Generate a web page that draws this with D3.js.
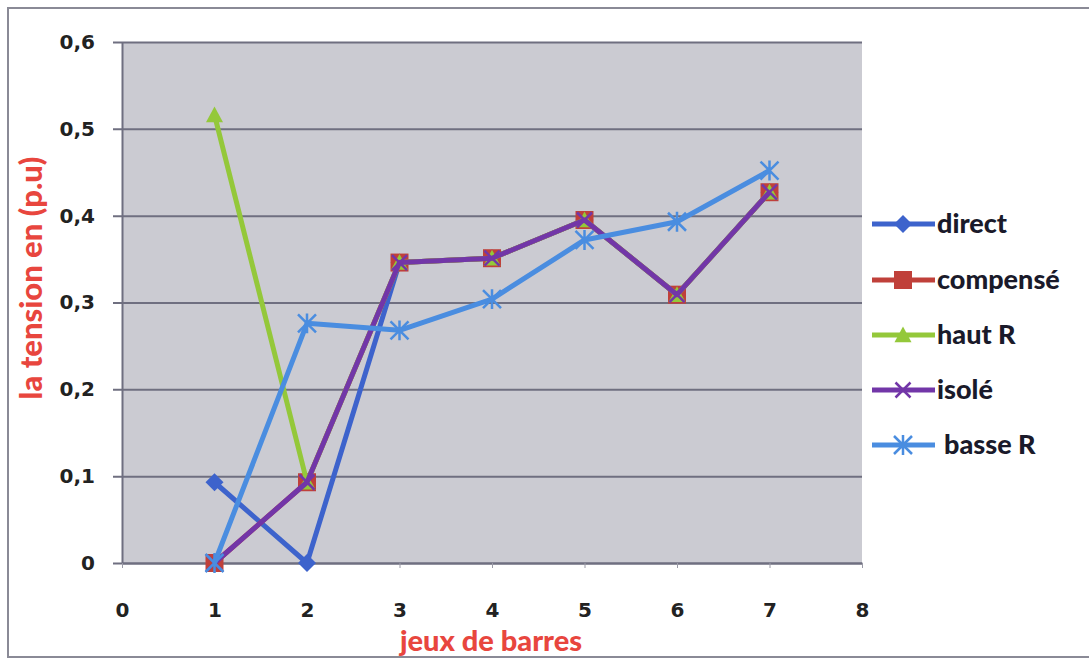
<!DOCTYPE html>
<html><head><meta charset="utf-8">
<script src="https://cdn.jsdelivr.net/npm/d3@7"></script>
<style>html,body{margin:0;padding:0;background:#fff;}</style>
</head><body>
<svg id="c" width="1089" height="659"></svg>
<script>
const xValues = [1, 2, 3, 4, 5, 6, 7];
const direct   = [0.093, 0.0,   0.346, 0.351, 0.395, 0.309, 0.427];
const compense = [0.0,   0.093, 0.346, 0.351, 0.395, 0.309, 0.427];
const hautR    = [0.516, 0.093, 0.346, 0.351, 0.395, 0.309, 0.427];
const isole    = [0.0,   0.093, 0.346, 0.351, 0.395, 0.309, 0.427];
const basseR   = [0.0,   0.276, 0.268, 0.304, 0.372, 0.393, 0.452];
const seriesNames = ["direct", "compensé", "haut R", "isolé", "basse R"];
const xTicks = [0, 1, 2, 3, 4, 5, 6, 7, 8];
const yTicks = [0, 0.1, 0.2, 0.3, 0.4, 0.5, 0.6];
const xTitle = "jeux de barres";
const yTitle = "la tension en (p.u)";

const series = [
  {name: seriesNames[0], values: direct,   color: "#3d63cc", marker: "diamond"},
  {name: seriesNames[1], values: compense, color: "#c0403a", marker: "square"},
  {name: seriesNames[2], values: hautR,    color: "#94c83a", marker: "triangle"},
  {name: seriesNames[3], values: isole,    color: "#7236a8", marker: "x"},
  {name: seriesNames[4], values: basseR,   color: "#4a8de0", marker: "star"}
];

const svg = d3.select("#c");
const L = 122, R = 862, T = 42, B = 563;
const x = d3.scaleLinear().domain([0, 8]).range([L, R]);
const y = d3.scaleLinear().domain([0, 0.6]).range([B, T]);

// outer frame
svg.append("path").attr("d", `M1089,8 H8 V657 H1089`).attr("fill", "none")
  .attr("stroke", "#8a8a96").attr("stroke-width", 2);

// plot background
svg.append("rect").attr("x", L).attr("y", T).attr("width", R - L).attr("height", B - T)
  .attr("fill", "#cbcbd2");

// gridlines + y axis
const yAxis = d3.axisLeft(y).tickValues(yTicks).tickSize(-(R - L)).tickSizeOuter(0)
  .tickPadding(27).tickFormat(d => d === 0 ? "0" : d3.format(".1f")(d).replace(".", ","));
const gy = svg.append("g").attr("transform", `translate(${L},0)`).call(yAxis);
gy.select(".domain").attr("stroke", "#6f6f80").attr("stroke-width", 2);
gy.selectAll(".tick line").attr("stroke", "#6f6f80").attr("stroke-width", 2).attr("x1", -9);
gy.selectAll(".tick text").attr("fill", "#222").style("font-family", "DejaVu Sans")
  .style("font-weight", "bold").style("font-size", "20px");

// x axis
const xAxis = d3.axisBottom(x).tickValues(xTicks).tickSize(5).tickSizeOuter(0).tickPadding(35)
  .tickFormat(d3.format("d"));
const gx = svg.append("g").attr("transform", `translate(0,${B})`).call(xAxis);
gx.select(".domain").attr("stroke", "#6f6f80").attr("stroke-width", 2);
gx.selectAll(".tick line").attr("stroke", "#9a9aa6").attr("stroke-width", 1);
gx.selectAll(".tick text").attr("fill", "#222").style("font-family", "DejaVu Sans")
  .style("font-weight", "bold").style("font-size", "20px");

// titles
svg.append("text").attr("x", 491).attr("y", 651).attr("text-anchor", "middle")
  .attr("fill", "#e8463e").style("font-family", "Lato").style("font-weight", "900")
  .style("font-size", "29px").text(xTitle);
svg.append("text").attr("transform", "translate(42,278) rotate(-90)").attr("text-anchor", "middle")
  .attr("fill", "#e8463e").style("font-family", "Lato").style("font-weight", "900")
  .style("font-size", "31px").text(yTitle);

function markerPath(type, s) {
  const h = s / 2;
  switch (type) {
    case "diamond": return `M0,${-h}L${h},0L0,${h}L${-h},0Z`;
    case "square": return `M${-h},${-h}H${h}V${h}H${-h}Z`;
    case "triangle": return `M0,${-h}L${h},${h * 0.85}H${-h}Z`;
    case "x": return `M${-h},${-h}L${h},${h}M${h},${-h}L${-h},${h}`;
    case "star": return `M${-h},${-h}L${h},${h}M${h},${-h}L${-h},${h}M0,${-h * 1.1}V${h * 1.1}`;
  }
}
function drawMarker(g, type, color, s) {
  const p = g.append("path").attr("d", markerPath(type, s));
  if (type === "x" || type === "star") p.attr("fill", "none").attr("stroke", color).attr("stroke-width", 2.5);
  else p.attr("fill", color).attr("stroke", "none");
}

const line = d3.line().x((d, i) => x(xValues[i])).y(d => y(d));
const sizes = {diamond: 18, square: 18, triangle: 17, x: 15, star: 18};

series.forEach(s => {
  const g = svg.append("g");
  g.append("path").datum(s.values).attr("d", line).attr("fill", "none")
    .attr("stroke", s.color).attr("stroke-width", 5).attr("stroke-linejoin", "round");
  s.values.forEach((v, i) => {
    const m = g.append("g").attr("transform", `translate(${x(xValues[i])},${y(v)})`);
    drawMarker(m, s.marker, s.color, sizes[s.marker]);
  });
});

// legend
const legY = [224, 280, 335, 390, 445];
series.forEach((s, i) => {
  const g = svg.append("g").attr("transform", `translate(0,${legY[i]})`);
  g.append("line").attr("x1", 872).attr("x2", 935).attr("y1", 0).attr("y2", 0)
    .attr("stroke", s.color).attr("stroke-width", 5);
  const m = g.append("g").attr("transform", "translate(903,0)");
  drawMarker(m, s.marker, s.color, sizes[s.marker]);
  g.append("text").attr("x", i === 4 ? 944 : 937).attr("y", 9).attr("fill", "#1a1a2a")
    .style("font-family", "Lato").style("font-weight", "900").style("font-size", "27px").text(s.name);
});
</script>
</body></html>
